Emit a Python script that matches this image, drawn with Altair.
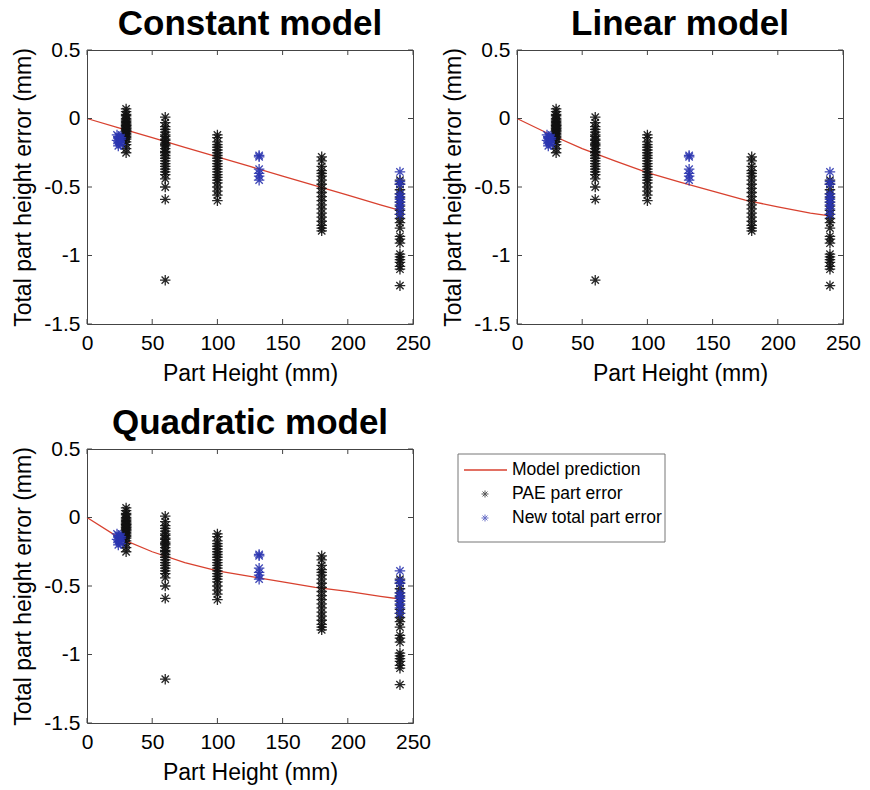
import altair as alt
import pandas as pd

# ---------------- data ----------------
x_ticks = [0, 50, 100, 150, 200, 250]
y_ticks = [0.5, 0, -0.5, -1, -1.5]

# PAE part error (black asterisks), grouped by part height
pae_30_y = [0.07, 0.05, 0.03, 0.02, 0.0, -0.01, -0.02, -0.03, -0.04, -0.05, -0.05, -0.06,
            -0.07, -0.07, -0.08, -0.09, -0.09, -0.10, -0.11, -0.12, -0.13, -0.14, -0.15,
            -0.17, -0.19, -0.22, -0.25]
pae_60_y = [0.01, -0.03, -0.06, -0.08, -0.10, -0.12, -0.13, -0.15, -0.16, -0.18, -0.19,
            -0.20, -0.22, -0.24, -0.25, -0.27, -0.29, -0.31, -0.33, -0.35, -0.37, -0.39,
            -0.41, -0.44, -0.50, -0.59, -1.18]
pae_100_y = [-0.12, -0.14, -0.17, -0.19, -0.21, -0.23, -0.25, -0.27, -0.29, -0.31, -0.33,
             -0.35, -0.37, -0.39, -0.41, -0.43, -0.45, -0.47, -0.50, -0.53, -0.56, -0.60]
pae_180_y = [-0.28, -0.31, -0.35, -0.38, -0.40, -0.42, -0.45, -0.48, -0.51, -0.54, -0.57,
             -0.60, -0.63, -0.66, -0.69, -0.72, -0.75, -0.78, -0.80, -0.82]
pae_240_y = [-0.45, -0.48, -0.52, -0.55, -0.58, -0.61, -0.64, -0.67, -0.70, -0.73, -0.76,
             -0.80, -0.86, -0.88, -0.91, -0.99, -1.01, -1.03, -1.05, -1.08, -1.10, -1.22]

# New total part error (blue asterisks)
new_25_x = [23, 24, 25, 26, 23, 24, 25, 26, 24, 25, 26, 25]
new_25_y = [-0.12, -0.13, -0.14, -0.15, -0.16, -0.17, -0.18, -0.19, -0.20, -0.15, -0.14, -0.17]
new_132_y = [-0.27, -0.28, -0.37, -0.40, -0.42, -0.45]
new_240_y = [-0.39, -0.46, -0.48, -0.55, -0.57, -0.59, -0.61, -0.63, -0.66, -0.70]

# Model predictions
model_x = [0, 25, 50, 75, 100, 125, 150, 175, 200, 225, 240]
constant_y = [0, -0.07, -0.14, -0.21, -0.28, -0.35, -0.42, -0.49, -0.56, -0.63, -0.67]
linear_y = [0, -0.115, -0.22, -0.31, -0.395, -0.465, -0.53, -0.595, -0.645, -0.69, -0.71]
quadratic_y = [0, -0.15, -0.25, -0.33, -0.39, -0.43, -0.47, -0.51, -0.54, -0.575, -0.595]

legend_labels = ["Model prediction", "PAE part error", "New total part error"]

# ---------------- tables ----------------
pae_df = pd.DataFrame({
    "x": [30] * len(pae_30_y) + [60] * len(pae_60_y) + [100] * len(pae_100_y)
         + [180] * len(pae_180_y) + [240] * len(pae_240_y),
    "y": pae_30_y + pae_60_y + pae_100_y + pae_180_y + pae_240_y,
})
new_df = pd.DataFrame({
    "x": new_25_x + [132] * len(new_132_y) + [240] * len(new_240_y),
    "y": new_25_y + new_132_y + new_240_y,
})
model_df = pd.DataFrame({"x": model_x, "constant": constant_y,
                         "linear": linear_y, "quadratic": quadratic_y})
xt_df = pd.DataFrame({"x": x_ticks})
yt_df = pd.DataFrame({"y": y_ticks})

RED = "#d8412f"
BLUE = "#2b35b0"
BLACK = "#111111"
TICKC = "#444444"
FONT = "Liberation Sans"
STAR = "M-1,0L1,0M0,-1L0,1M-0.7,-0.7L0.7,0.7M-0.7,0.7L0.7,-0.7"
W, H = 326, 274
TICK = 5

xscale = alt.Scale(domain=[0, 250], nice=False)
yscale = alt.Scale(domain=[-1.5, 0.5], nice=False)

common_axis = dict(grid=False, ticks=False, domain=False, labelFlush=False,
                   labelFont=FONT, labelFontSize=21, labelColor="black",
                   titleFont=FONT, titleFontSize=23, titleFontWeight="normal",
                   titleColor="black")
xaxis = alt.Axis(values=x_ticks, title="Part Height (mm)", labelPadding=8,
                 titlePadding=9, **common_axis)
yaxis = alt.Axis(values=y_ticks, title="Total part height error (mm)",
                 labelExpr="'' + datum.value", labelPadding=7, titlePadding=8,
                 **common_axis)


def X(field):
    return alt.X(f"{field}:Q", scale=xscale, axis=xaxis)


def Y(field):
    return alt.Y(f"{field}:Q", scale=yscale, axis=yaxis)


def panel(title, field):
    line = alt.Chart(model_df).mark_line(color=RED, strokeWidth=1.3).encode(
        x=X("x"), y=Y(field))
    pae = alt.Chart(pae_df).mark_point(shape=STAR, size=110, filled=False,
                                       color=BLACK, strokeWidth=1.3, opacity=0.9).encode(
        x=X("x"), y=Y("y"))
    new = alt.Chart(new_df).mark_point(shape=STAR, size=110, filled=False,
                                       color=BLUE, strokeWidth=1.3, opacity=0.9).encode(
        x=X("x"), y=Y("y"))
    tb = alt.Chart(xt_df).mark_rule(color=TICKC, strokeWidth=1).encode(
        x=X("x"), y=alt.value(H), y2=alt.value(H - TICK))
    tt = alt.Chart(xt_df).mark_rule(color=TICKC, strokeWidth=1).encode(
        x=X("x"), y=alt.value(0), y2=alt.value(TICK))
    tl = alt.Chart(yt_df).mark_rule(color=TICKC, strokeWidth=1).encode(
        y=Y("y"), x=alt.value(0), x2=alt.value(TICK))
    tr = alt.Chart(yt_df).mark_rule(color=TICKC, strokeWidth=1).encode(
        y=Y("y"), x=alt.value(W), x2=alt.value(W - TICK))
    return alt.layer(line, pae, new, tb, tt, tl, tr).properties(
        width=W, height=H,
        title=alt.TitleParams(title, font=FONT, fontSize=35, fontWeight="bold",
                              color="black", offset=-3),
    )


# ---------------- legend panel (sits in the 4th grid cell) ----------------
LX0 = -59          # legend box left edge relative to the cell's left edge
LX1 = 148
leg_df = pd.DataFrame({"label": legend_labels, "idx": [0, 1, 2],
                       "kind": ["line", "pae", "new"]})
lyscale = alt.Scale(domain=[-0.875, 10.5417], reverse=True, nice=False, zero=False)
box = alt.Chart(pd.DataFrame({"a": [0]})).mark_rect(
    fill="white", stroke="#777", strokeWidth=1).encode(
    x=alt.value(LX0), x2=alt.value(LX1), y=alt.value(5), y2=alt.value(93))
lline = alt.Chart(leg_df).transform_filter("datum.kind == 'line'").mark_rule(
    color=RED, strokeWidth=1.3).encode(
    x=alt.value(LX0 + 6), x2=alt.value(LX0 + 49),
    y=alt.Y("idx:Q", scale=lyscale, axis=None))
lstar = alt.Chart(leg_df).transform_filter("datum.kind != 'line'").mark_point(
    shape=STAR, size=49, filled=False, strokeWidth=1).encode(
    x=alt.value(LX0 + 27), y=alt.Y("idx:Q", scale=lyscale, axis=None),
    color=alt.Color("kind:N", scale=alt.Scale(domain=["pae", "new"], range=[BLACK, BLUE]),
                    legend=None))
ltext = alt.Chart(leg_df).mark_text(align="left", baseline="middle", font=FONT,
                                    fontSize=17.5, color="black").encode(
    x=alt.value(LX0 + 54), y=alt.Y("idx:Q", scale=lyscale, axis=None), text="label:N")
legend_panel = alt.layer(box, lline, lstar, ltext).properties(
    width=W, height=H, view=alt.ViewBackground(strokeOpacity=0))

chart = alt.concat(
    panel("Constant model", "constant"), panel("Linear model", "linear"),
    panel("Quadratic model", "quadratic"), legend_panel,
    columns=2, spacing={"row": 125, "column": 104}, bounds="flush",
).properties(
    padding={"left": 12, "top": 6, "right": 5, "bottom": 5},
    background="white",
).configure_view(stroke="#444", strokeWidth=1).configure_axis(
    domain=False, ticks=False, grid=False, labelFont=FONT, labelFontSize=21,
    labelColor="black", titleFont=FONT, titleFontSize=23, titleFontWeight="normal",
    titleColor="black",
)

chart.save("out.html", embed_options={"renderer": "svg", "actions": False})
